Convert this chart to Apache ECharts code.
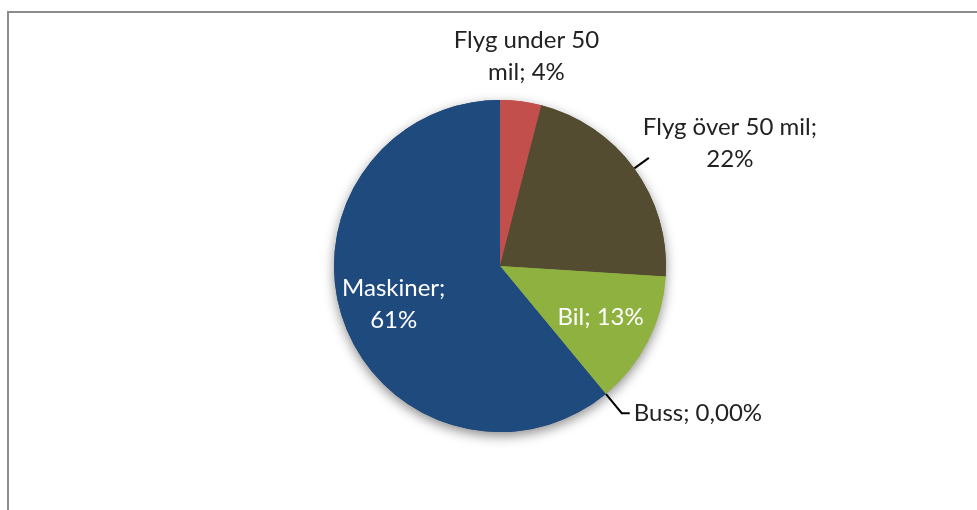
<!DOCTYPE html>
<html>
<head>
<meta charset="utf-8">
<script src="https://cdn.jsdelivr.net/npm/echarts@6/dist/echarts.min.js"></script>
<style>
    html, body { margin: 0; padding: 0; background: #fff; }
    #wrap { position: relative; width: 977px; height: 510px; overflow: hidden; }
    #frame { position: absolute; left: 7px; top: 11px; right: -10px; bottom: -10px;
             border-top: 2px solid #8c8c8c; border-left: 2px solid #8c8c8c; }
    #container { position: absolute; left: 0; top: 0; width: 977px; height: 510px; }
</style>
</head>
<body>
<div id="wrap"><div id="frame"></div><div id="container"></div></div>
<script>
// data
var categories = ['Flyg under 50 mil', 'Flyg över 50 mil', 'Bil', 'Buss', 'Maskiner'];
var values = [4, 22, 13, 0, 61];
var decimals = [0, 0, 0, 2, 0];      // decimals shown in the percent label

// look
var sliceColors = ['#C24F4B', '#544C30', '#8FB140', '#2A5A8F', '#1F4A7E'];
var insideLabel = [false, false, true, false, true];
var wrapChars = [13, 17, 0, 0, 9];   // where the label text wraps (0 = one line)
var lineLen = [13, 18, 0, 25, 0];
var lineLen2 = [0, 0, 0, 8, 0];

var FONT = 'Lato, "Noto Sans", sans-serif';

function wrapText(text, max) {
    if (!max) return [text];
    var words = text.split(' ');
    var lines = [];
    var cur = '';
    words.forEach(function (w) {
        var next = cur ? cur + ' ' + w : w;
        if (cur && next.length > max) {
            lines.push(cur);
            cur = w;
        } else {
            cur = next;
        }
    });
    if (cur) lines.push(cur);
    return lines;
}

function labelText(params) {
    var i = params.dataIndex;
    var pct = params.percent.toFixed(decimals[i]).replace('.', ',');
    var key = insideLabel[i] ? 'w' : 'd';
    return wrapText(params.name + '; ' + pct + '%', wrapChars[i]).map(function (l) {
        return '{' + key + '|' + l + '}';
    }).join('\n');
}

var richStyle = {
    d: { color: '#222', fontFamily: FONT, fontSize: 24, lineHeight: 32, align: 'center' },
    w: { color: '#fff', fontFamily: FONT, fontSize: 24, lineHeight: 32, align: 'center' }
};

var baseData = [], mainData = [], labelData = [];
for (var i = 0; i < categories.length; i++) {
    baseData.push({ name: categories[i], value: values[i], itemStyle: { color: sliceColors[i] } });
    mainData.push({
        name: categories[i],
        value: values[i],
        itemStyle: { color: sliceColors[i] },
        label: { show: !insideLabel[i] },
        labelLine: { show: !insideLabel[i] && i !== 0, length: lineLen[i], length2: lineLen2[i] }
    });
    labelData.push({ name: categories[i], value: values[i], label: { show: insideLabel[i] } });
}

var myChart = echarts.init(document.getElementById('container'), null, { renderer: 'canvas' });
var options = {
    animation: false,
    backgroundColor: 'transparent',
    series: [
        {
            // shadow under the pie
            type: 'pie',
            silent: true,
            center: [500, 266],
            radius: 166,
            startAngle: 90,
            clockwise: true,
            label: { show: false },
            labelLine: { show: false },
            itemStyle: { shadowBlur: 12, shadowOffsetY: 4, shadowColor: 'rgba(0,0,0,0.45)' },
            data: baseData
        },
        {
            type: 'pie',
            center: [500, 266],
            radius: 166,
            startAngle: 90,
            clockwise: true,
            avoidLabelOverlap: false,
            label: {
                position: 'outside',
                formatter: labelText,
                rich: richStyle,
                distanceToLabelLine: 4
            },
            labelLine: { lineStyle: { color: '#000', width: 2 } },
            labelLayout: function (p) {
                if (p.dataIndex === 0) {
                    return { align: 'center', verticalAlign: 'bottom' };
                }
                if (p.dataIndex === 1) {
                    // Excel puts this one above the leader's end
                    return { dx: -10, dy: -15 };
                }
            },
            data: mainData
        },
        {
            // inside labels, placed a bit further out than the pie's own inside position
            type: 'pie',
            silent: true,
            center: [500, 266],
            radius: 220,
            startAngle: 90,
            clockwise: true,
            avoidLabelOverlap: false,
            itemStyle: { color: 'rgba(0,0,0,0)' },
            label: { position: 'inside', formatter: labelText, rich: richStyle },
            labelLine: { show: false },
            data: labelData
        }
    ]
};
myChart.setOption(options, true);
</script>
</body>
</html>
